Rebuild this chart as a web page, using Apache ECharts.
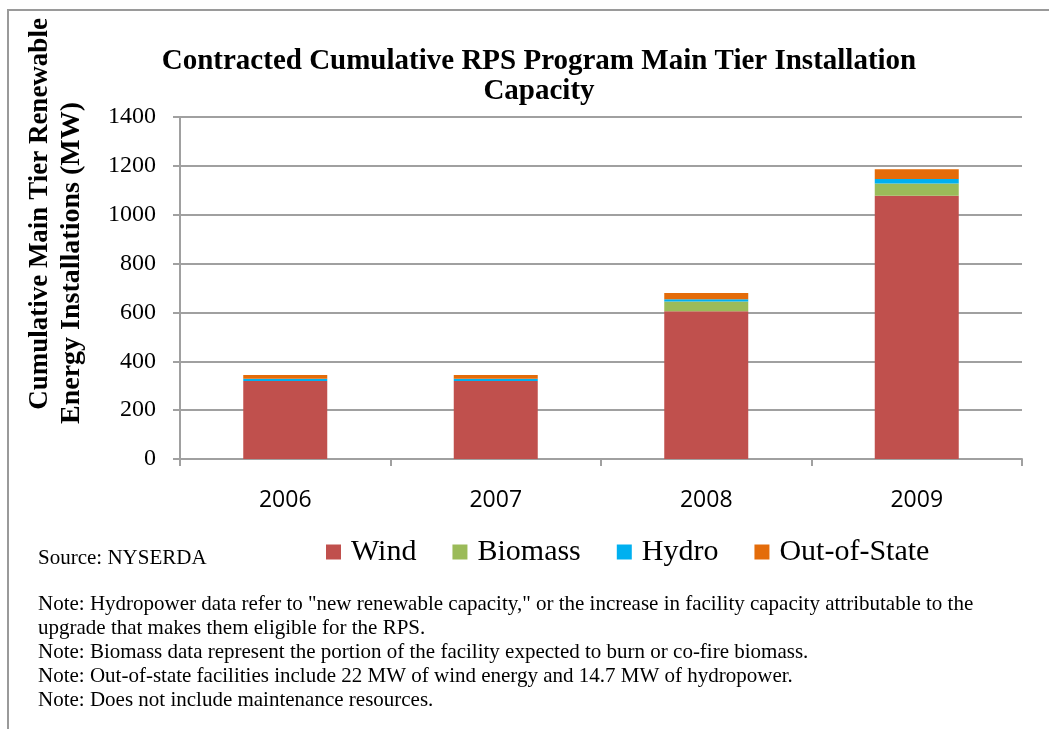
<!DOCTYPE html>
<html>
<head>
<meta charset="utf-8">
<script src="https://cdn.jsdelivr.net/npm/echarts@6/dist/echarts.min.js"></script>
<style>
  html, body { margin: 0; padding: 0; background: #fff; }
  #chart { width: 1049px; height: 729px; }
</style>
</head>
<body>
<div id="chart"></div>
<script>
// values (MW)
var years = ['2006', '2007', '2008', '2009'];
var wind = [319, 319, 605, 1078];
var biomass = [0, 0, 40, 50];
var hydro = [10, 10, 9, 18];
var outOfState = [15, 15, 26, 40];
var yTicks = [0, 200, 400, 600, 800, 1000, 1200, 1400];

var notes = [
    'Note: Hydropower data refer to "new renewable capacity," or the increase in facility capacity attributable to the',
    'upgrade that makes them eligible for the RPS.',
    'Note: Biomass data represent the portion of the facility expected to burn or co-fire biomass.',
    'Note: Out-of-state facilities include 22 MW of wind energy and 14.7 MW of hydropower.',
    'Note: Does not include maintenance resources.'
];

var serif = '"Liberation Serif", "DejaVu Serif", serif';
var gridGray = '#a0a0a0';

var myChart = echarts.init(document.getElementById('chart'));

function barSeries(name, data, color) {
    return {
        name: name,
        type: 'bar',
        stack: 'total',
        barWidth: 84,
        itemStyle: { color: color },
        data: data
    };
}

var option = {
    animation: false,
    title: {
        text: 'Contracted Cumulative RPS Program Main Tier Installation\nCapacity',
        left: 534,
        top: 42,
        textAlign: 'center',
        textStyle: {
            fontFamily: serif,
            fontWeight: 'bold',
            fontSize: 29,
            lineHeight: 30,
            color: '#000'
        }
    },
    legend: {
        left: 326,
        top: 537,
        padding: 0,
        itemWidth: 15,
        itemHeight: 15,
        itemGap: 36,
        icon: 'rect',
        selectedMode: false,
        textStyle: { fontFamily: serif, fontSize: 30, color: '#000', padding: [0, 0, 0, 5] },
        data: ['Wind', 'Biomass', 'Hydro', 'Out-of-State']
    },
    grid: { left: 180, right: 27, top: 117, bottom: 270 },
    xAxis: {
        type: 'category',
        data: years,
        axisLine: { lineStyle: { color: gridGray, width: 2 } },
        axisTick: { show: true, length: 7, alignWithLabel: false, lineStyle: { color: gridGray, width: 2 } },
        axisLabel: { fontFamily: '"Open Sans", sans-serif', fontSize: 23, color: '#000', margin: 30 }
    },
    yAxis: {
        type: 'value',
        min: yTicks[0],
        max: yTicks[yTicks.length - 1],
        interval: 200,
        axisLine: { show: true, lineStyle: { color: gridGray, width: 2 } },
        axisTick: { show: true, length: 7, lineStyle: { color: gridGray, width: 2 } },
        splitLine: { lineStyle: { color: gridGray, width: 2 } },
        axisLabel: {
            fontFamily: serif, fontSize: 24, color: '#000', margin: 24,
            formatter: function (v) { return String(v); }
        }
    },
    graphic: [
        {   // outer frame
            type: 'rect',
            shape: { x: 8, y: 10, width: 1100, height: 800 },
            style: { fill: 'none', stroke: '#9a9a9a', lineWidth: 2 }
        },
        {
            type: 'text',
            x: 40, y: 214, rotation: Math.PI / 2,
            style: {
                text: 'Cumulative Main Tier Renewable',
                font: 'bold 27px ' + serif,
                fill: '#000', align: 'center', verticalAlign: 'middle'
            }
        },
        {
            type: 'text',
            x: 72, y: 263, rotation: Math.PI / 2,
            style: {
                text: 'Energy Installations (MW)',
                font: 'bold 28px ' + serif,
                fill: '#000', align: 'center', verticalAlign: 'middle'
            }
        },
        {
            type: 'text',
            x: 38, y: 558,
            style: {
                text: 'Source: NYSERDA',
                font: '21px ' + serif,
                fill: '#000', verticalAlign: 'middle'
            }
        },
        {
            type: 'text',
            x: 38, y: 592,
            style: {
                text: notes.join('\n'),
                font: '21px ' + serif,
                lineHeight: 24,
                fill: '#000', verticalAlign: 'top'
            }
        }
    ],
    series: [
        barSeries('Wind', wind, '#C0504D'),
        barSeries('Biomass', biomass, '#9BBB59'),
        barSeries('Hydro', hydro, '#00B0F0'),
        barSeries('Out-of-State', outOfState, '#E46C0A')
    ]
};
myChart.setOption(option);
</script>
</body>
</html>
